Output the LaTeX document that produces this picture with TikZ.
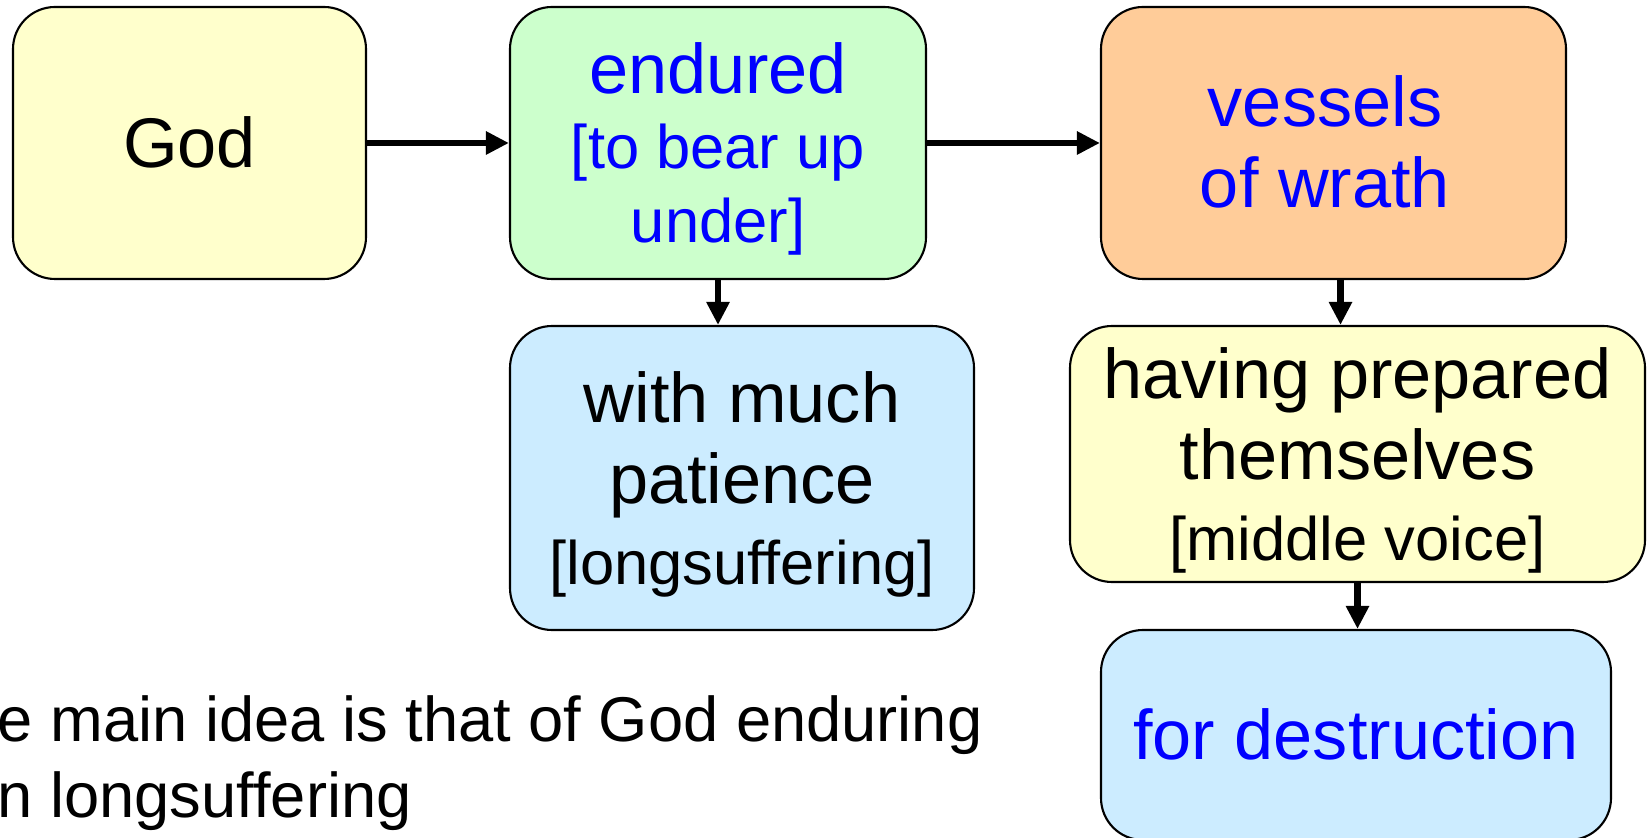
\documentclass[tikz,border=0pt]{standalone}
\usepackage{fontspec}
\setmainfont{Liberation Sans}
\usetikzlibrary{arrows.meta}

\definecolor{boxyellow}{RGB}{255,255,204}
\definecolor{boxgreen}{RGB}{204,255,204}
\definecolor{boxorange}{RGB}{255,204,153}
\definecolor{boxblue}{RGB}{204,236,255}
\newcommand{\bigfont}{\fontsize{20}{23}\selectfont}
\newcommand{\brkfont}{\fontsize{17.5}{21.5}\selectfont}
% struts giving each line block the ascent and descent of the font
\newcommand{\up}{\rule{0pt}{0.905em}}
\newcommand{\dn}{\rule[-0.212em]{0pt}{0pt}}
\newcommand{\pad}{\hspace*{0.17cm}}

\begin{document}
\begin{tikzpicture}[
  box/.style = {draw, line width = 0.6pt, rounded corners = 0.42cm, align = center, inner sep = 0pt, font = \bigfont},
  link/.style = {line width = 1.9pt, -{Triangle[length = 0.23cm, width = 0.22cm]}},
  idea/.style = {anchor = base west, inner sep = 0pt, font = \fontsize{18}{21}\selectfont}
]
\useasboundingbox (0, 0) rectangle (16.51, -8.38);
%\draw[very thin, color = gray](0, 0) grid (16, -8);
\node [box, fill = boxyellow, minimum width = 3.53cm, minimum height = 2.72cm] (god) at (1.895, -1.43) {\up God\dn};
\node [box, fill = boxgreen, text = blue, font = \fontsize{20}{21.2}\selectfont, minimum width = 4.16cm, minimum height = 2.72cm] (endured) at (7.18, -1.43) {\up endured\\\brkfont [to bear up\\\brkfont under]\dn};
\node [box, fill = boxorange, text = blue, minimum width = 4.65cm, minimum height = 2.72cm] (vessels) at (13.335, -1.43) {\up vessels\pad\\of wrath\pad\dn};
\node [box, fill = boxblue, minimum width = 4.64cm, minimum height = 3.04cm] (patience) at (7.42, -4.78) {\up with much\\patience\\\brkfont [longsuffering]\dn};
\node [box, fill = boxyellow, minimum width = 5.75cm, minimum height = 2.56cm] (prepared) at (13.575, -4.54) {\up having prepared\\themselves\\\brkfont [middle voice]\dn};
\node [box, fill = boxblue, text = blue, minimum width = 5.10cm, minimum height = 2.10cm] (destruction) at (13.56, -7.35) {\up for destruction\dn};
\draw [link] (god.east) -- (endured.west);
\draw [link] (endured.east) -- (vessels.west);
\draw [link] (endured.south) -- (endured.south |- patience.north);
\draw [link] ([xshift = 0.07cm]vessels.south) -- ([xshift = 0.07cm]vessels.south |- prepared.north);
\draw [link] (prepared.south) -- (prepared.south |- destruction.north);
\node [idea] (idea1) at (-0.03, -7.42) {e main idea is that of God enduring};
\node [idea] (idea2) at (-0.03, -8.18) {n longsuffering};
\end{tikzpicture}
\end{document}
